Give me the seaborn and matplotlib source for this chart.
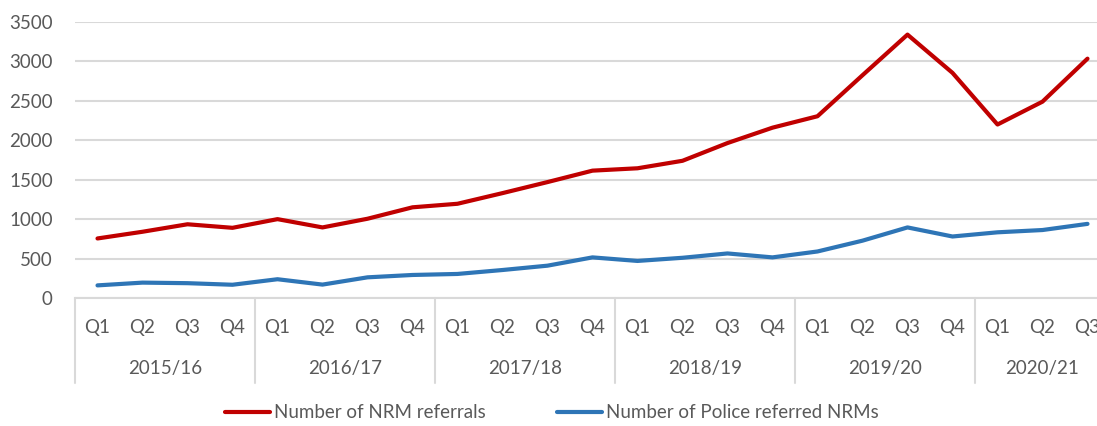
import pandas as pd
import matplotlib.pyplot as plt
import matplotlib.transforms as mtransforms
import seaborn as sns

# data
years = ['2015/16', '2016/17', '2017/18', '2018/19', '2019/20', '2020/21']
quarters = ['Q1', 'Q2', 'Q3', 'Q4']
nrm_referrals = [755, 840, 935, 890, 1000, 895, 1005, 1150,
                 1195, 1330, 1470, 1615, 1645, 1740, 1965, 2160,
                 2305, 2825, 3340, 2855, 2200, 2490, 3035]
police_referred = [160, 195, 188, 168, 238, 170, 262, 292,
                   305, 355, 410, 515, 470, 510, 565, 515,
                   590, 727, 895, 780, 833, 862, 940]
series_names = ['Number of NRM referrals', 'Number of Police referred NRMs']

labels = [q for y in years for q in quarters][:len(nrm_referrals)]
df = pd.DataFrame({
    'idx': list(range(len(labels))) * 2,
    'value': nrm_referrals + police_referred,
    'series': [series_names[0]] * len(labels) + [series_names[1]] * len(labels),
})

sns.set_style('white')
plt.rcParams['font.family'] = ['Lato', 'DejaVu Sans']
txt = '#595959'
grid = '#D9D9D9'
fs = 13.5

fig = plt.figure(figsize=(10.97, 4.26), dpi=100)
ax = fig.add_axes([75 / 1097, 128 / 426, 1022 / 1097, 276 / 426])

sns.lineplot(data=df, x='idx', y='value', hue='series', palette=['#C00000', '#2E75B6'],
             linewidth=3, ax=ax, legend=True)

ax.set_ylim(0, 3500)
ax.set_xlim(-0.5, -0.5 + 1022 / 45)
ax.set_yticks(range(0, 3501, 500))
ax.yaxis.grid(True, color=grid, linewidth=1.5)
ax.set_axisbelow(True)
for s in ['top', 'right', 'left']:
    ax.spines[s].set_visible(False)
ax.spines['bottom'].set_color(grid)
ax.spines['bottom'].set_linewidth(1.5)
ax.tick_params(axis='y', length=0, labelsize=fs, labelcolor=txt, pad=16)
ax.set_xticks(range(len(labels)))
ax.set_xticklabels(labels)
ax.tick_params(axis='x', length=0, labelsize=fs, labelcolor=txt, pad=15)
ax.set_xlabel('')
ax.set_ylabel('')

# year group labels and separators below the axis
trans = mtransforms.blended_transform_factory(ax.transData, ax.transAxes)
for i, yr in enumerate(years):
    start = i * 4
    end = min(start + 4, len(labels))
    ax.text((start + end - 1) / 2, -0.254, yr, transform=trans, ha='center', va='center',
            fontsize=fs, color=txt)
    ax.plot([start - 0.5, start - 0.5], [0, -0.308], transform=trans, color=grid,
            linewidth=1.5, clip_on=False)

handles, lbls = ax.get_legend_handles_labels()
ax.get_legend().remove()
fig.legend(handles, lbls, loc='center', bbox_to_anchor=(552 / 1097, 13 / 426), ncol=2,
           frameon=False, fontsize=fs, handlelength=2.4, handletextpad=0.2,
           columnspacing=3.8, labelcolor=txt)

plt.savefig('out.png', dpi=100)
